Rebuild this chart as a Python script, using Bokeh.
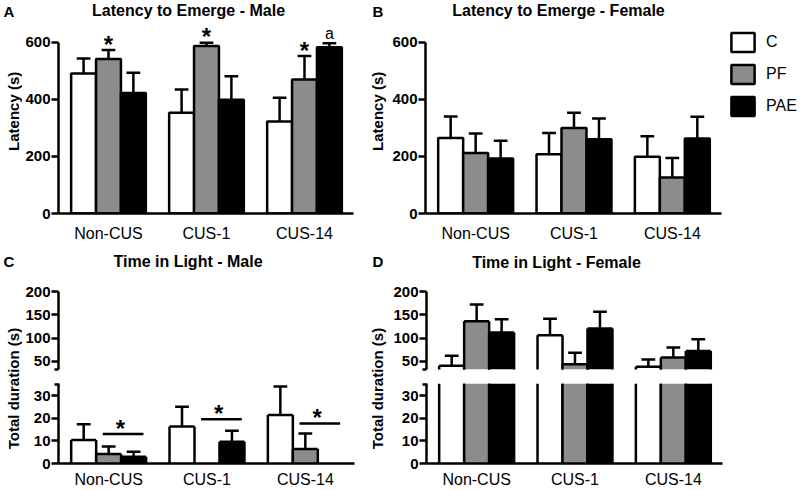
import math
from bokeh.plotting import figure
from bokeh.models import ColumnDataSource, Range1d, FixedTicker, Label, Legend, LegendItem
from bokeh.layouts import row, column
from bokeh.embed import file_html
from bokeh.resources import INLINE
from bokeh.core.properties import value

# ---------------- data ----------------
groups = ["Non-CUS", "CUS-1", "CUS-14"]
treatments = ["C", "PF", "PAE"]
fills = ["white", "#8c8c8c", "black"]

# A: Latency to emerge - male (mean, SEM)
latM_C = [491, 353, 323]
latM_PF = [542, 587, 470]
latM_PAE = [423, 399, 583]
latM_C_err = [53, 82, 83]
latM_PF_err = [31, 12, 82]
latM_PAE_err = [71, 82, 14]
latM_stars = [("Non-CUS", "PF"), ("CUS-1", "PF"), ("CUS-14", "PF")]
latM_letters = [("CUS-14", "PAE", "a")]

# B: Latency to emerge - female
latF_C = [265, 208, 199]
latF_PF = [212, 300, 126]
latF_PAE = [193, 260, 263]
latF_C_err = [75, 74, 72]
latF_PF_err = [69, 53, 69]
latF_PAE_err = [62, 73, 76]

# C: Time in light - male
tlM_C = [10.4, 16.4, 21.5]
tlM_PF = [4.2, 0.0, 6.4]
tlM_PAE = [3.0, 9.6, 0.0]
tlM_C_err = [7.0, 8.7, 12.6]
tlM_PF_err = [3.3, 0.0, 6.9]
tlM_PAE_err = [2.2, 4.9, 0.0]
tlM_sig = [13.0, 19.6, 17.7]   # height of PF-vs-PAE significance bars

# D: Time in light - female
tlF_C = [40.0, 106.0, 38.0]
tlF_PF = [136.6, 43.5, 58.0]
tlF_PAE = [112.0, 120.8, 72.3]
tlF_C_err = [21.5, 36.0, 15.7]
tlF_PF_err = [36.0, 24.5, 21.7]
tlF_PAE_err = [29.0, 36.0, 25.3]

lat_ticks = [0, 200, 400, 600]
upper_ticks = [50, 100, 150, 200]
lower_ticks = [0, 10, 20, 30]

# ---------------- layout constants ----------------
FONT = "Liberation Sans"
X0, X1 = -0.51, 2.50
FW = 296
XPP = (X1 - X0) / FW          # data units per pixel along x
BW = 0.254
OFFS = [-0.254, 0.0, 0.254]
CAP = 0.07
LW = 2.5

TOP_H = 244
LAT_FH = 213
LAT_R = (0, 747)      # frame reaches page top; axis drawn only 0..600
UP_H, UP_FH = 139, 125
UP_R = (32, 302.6)    # upper segment; axis drawn only 32..200
LO_H, LO_FH = 107, 80
LO_R = (0, 35.4)
BOT_H = UP_H + LO_H
BREAK = LO_R[1]       # values above this belong to the upper segment


def dx(px, fl):
    return X0 + (px - fl) * XPP


def dy(py, ft, fh, y0, y1):
    return y1 - (py - ft) / fh * (y1 - y0)


def make_fig(width, height, yr, ml, mr, mt, mb, x_axis=True, x_end=X1):
    p = figure(width=width, height=height, x_range=Range1d(X0, x_end), y_range=Range1d(*yr),
               output_backend="svg", toolbar_location=None, title=None,
               x_axis_location="below" if x_axis else None,
               min_border_left=ml, min_border_right=mr, min_border_top=mt, min_border_bottom=mb)
    p.outline_line_color = None
    p.xgrid.grid_line_color = None
    p.ygrid.grid_line_color = None
    p.background_fill_color = "white"
    p.border_fill_color = "white"
    ya = p.yaxis[0]
    ya.axis_line_width = LW
    ya.axis_line_color = "black"
    ya.major_tick_line_width = LW
    ya.major_tick_line_color = "black"
    ya.major_tick_out = 7
    ya.major_tick_in = 0
    ya.minor_tick_out = 4
    ya.minor_tick_in = 0
    ya.minor_tick_line_width = LW
    ya.minor_tick_line_color = "black"
    ya.major_label_text_font = FONT
    ya.major_label_text_font_size = "15px"
    ya.major_label_text_font_style = "bold"
    ya.major_label_text_color = "black"
    ya.major_label_standoff = 1
    if x_axis:
        xa = p.xaxis[0]
        xa.ticker = FixedTicker(ticks=[0, 1, 2], minor_ticks=[])
        xa.major_label_overrides = {i: g for i, g in enumerate(groups)}
        xa.bounds = (X0, X1)
        xa.axis_line_width = LW
        xa.axis_line_color = "black"
        xa.major_tick_line_color = None
        xa.minor_tick_line_color = None
        xa.major_tick_out = 0
        xa.major_tick_in = 0
        xa.major_label_text_font = FONT
        xa.major_label_text_font_size = "16px"
        xa.major_label_text_color = "black"
    return p


def seg(p, x0, y0, x1, y1):
    if x0:
        p.segment(x0=x0, y0=y0, x1=x1, y1=y1, line_color="black", line_width=LW)


def draw_errors(p, means, errs, lo, hi):
    for k in range(3):
        xs = [g + OFFS[k] for g in range(len(groups))]
        st = [(x, m, m + e) for x, m, e in zip(xs, means[k], errs[k]) if e > 0 and m + e > lo and m < hi]
        seg(p, [s[0] for s in st], [max(s[1], lo) for s in st], [s[0] for s in st], [min(s[2], hi) for s in st])
        cp = [(x, m + e) for x, m, e in zip(xs, means[k], errs[k]) if e > 0 and lo < m + e <= hi]
        seg(p, [c[0] - CAP for c in cp], [c[1] for c in cp], [c[0] + CAP for c in cp], [c[1] for c in cp])


def draw_bars(p, means, errs):
    rends = []
    for k in range(3):
        xs = [g + OFFS[k] for g in range(len(groups))]
        src = ColumnDataSource(dict(x=xs, top=means[k]))
        r = p.vbar(x="x", top="top", bottom=0, width=BW, source=src,
                   fill_color=fills[k], line_color="black", line_width=LW)
        rends.append(r)
    draw_errors(p, means, errs, -1e9, 1e9)
    return rends


def draw_bars_segment(p, means, errs, lo, hi, base):
    """Bars for one segment of a broken axis: open at the cut edges."""
    for k in range(3):
        xs = [g + OFFS[k] for g in range(len(groups))]
        vis = [(x, m) for x, m in zip(xs, means[k]) if m > lo]
        if not vis:
            continue
        vx = [v[0] for v in vis]
        vt = [min(v[1], hi) for v in vis]
        vb = [base for v in vis]
        p.vbar(x=vx, top=vt, bottom=vb, width=BW, fill_color=fills[k], line_color=None)
        seg(p, [x - BW / 2 for x in vx], vb, [x - BW / 2 for x in vx], vt)
        seg(p, [x + BW / 2 for x in vx], vb, [x + BW / 2 for x in vx], vt)
        tp = [v for v in vis if v[1] <= hi]
        seg(p, [v[0] - BW / 2 for v in tp], [v[1] for v in tp], [v[0] + BW / 2 for v in tp], [v[1] for v in tp])
    draw_errors(p, means, errs, lo, hi)


def add_label(p, x, y, text, size, bold=True, align="center", angle=0.0):
    p.add_layout(Label(x=x, y=y, text=text, text_font=FONT, text_font_size=size,
                       text_font_style="bold" if bold else "normal", text_color="black",
                       text_align=align, text_baseline="middle", angle=angle))


def strip(width, height):
    s = figure(width=width, height=height, x_range=Range1d(0, width), y_range=Range1d(0, height),
               output_backend="svg", toolbar_location=None, title=None,
               x_axis_location=None, y_axis_location=None, min_border=0)
    s.outline_line_color = None
    s.background_fill_color = "white"
    s.border_fill_color = "white"
    s.xgrid.grid_line_color = None
    s.ygrid.grid_line_color = None
    return s


def stars(p, xs, ys, size="24px", dy_px=-6):
    p.text(x=xs, y=ys, text=["*"] * len(xs), text_font=value(FONT), text_font_size=size,
           text_font_style="bold", text_align="center", text_baseline="middle",
           y_offset=dy_px, text_color="black")


# ---------------- panel A ----------------
pA = make_fig(346, TOP_H, LAT_R, 35, 15, 0, TOP_H - LAT_FH)
pA.yaxis[0].ticker = FixedTicker(ticks=lat_ticks, minor_ticks=[])
pA.yaxis[0].bounds = (0, 600)
pA.xaxis[0].major_label_standoff = 11
mA = [latM_C, latM_PF, latM_PAE]
eA = [latM_C_err, latM_PF_err, latM_PAE_err]
draw_bars(pA, mA, eA)
sx, sy = [], []
for g, t in latM_stars:
    gi, ti = groups.index(g), treatments.index(t)
    sx.append(gi + OFFS[ti])
    sy.append(mA[ti][gi] + eA[ti][gi])
stars(pA, sx, sy)
lx, ly, lt = [], [], []
for g, t, s in latM_letters:
    gi, ti = groups.index(g), treatments.index(t)
    lx.append(gi + OFFS[ti])
    ly.append(mA[ti][gi] + eA[ti][gi])
    lt.append(s)
pA.text(x=lx, y=ly, text=lt, text_font=value(FONT), text_font_size="16px",
        text_align="center", text_baseline="middle", y_offset=-10, text_color="black")
add_label(pA, dx(187.5, 57), dy(10, 0, LAT_FH, *LAT_R), "Latency to Emerge - Male", "16px")

# ---------------- panel B ----------------
pB = make_fig(412, TOP_H, LAT_R, 37, 0, 0, TOP_H - LAT_FH, x_end=X1 + 79 * XPP)
pB.yaxis[0].ticker = FixedTicker(ticks=lat_ticks, minor_ticks=[])
pB.yaxis[0].bounds = (0, 600)
pB.xaxis[0].major_label_standoff = 11
rB = draw_bars(pB, [latF_C, latF_PF, latF_PAE], [latF_C_err, latF_PF_err, latF_PAE_err])
legend = Legend(items=[LegendItem(label=t, renderers=[r]) for t, r in zip(treatments, rB)],
                location=(303, 95), orientation="vertical", glyph_width=29, glyph_height=24,
                label_height=24, spacing=8, label_standoff=9, padding=0, margin=0,
                border_line_color=None, background_fill_alpha=0,
                label_text_font=FONT, label_text_font_size="16px", label_text_color="black")
pB.add_layout(legend)
add_label(pB, dx(558, 425), dy(10, 0, LAT_FH, *LAT_R), "Latency to Emerge - Female", "16px")

sA = strip(22, TOP_H)
add_label(sA, 3, TOP_H - 12.5, "A", "15px", align="left")
add_label(sA, 12.5, TOP_H - 127, "Latency (s)", "15px", angle=math.pi / 2)
sB = strip(20, TOP_H)
add_label(sB, 4, TOP_H - 12.5, "B", "15px", align="left")
add_label(sB, 8.5, TOP_H - 127, "Latency (s)", "15px", angle=math.pi / 2)

# ---------------- panels C / D (broken axis) ----------------


def broken_pair(width, ml, mr, means, errs):
    pu = make_fig(width, UP_H, UP_R, ml, mr, 0, UP_H - UP_FH, x_axis=False)
    pu.yaxis[0].ticker = FixedTicker(ticks=upper_ticks, minor_ticks=[32.3])
    pu.yaxis[0].bounds = (32, 200)
    pl = make_fig(width, LO_H, LO_R, ml, mr, 0, LO_H - LO_FH, x_axis=True)
    pl.yaxis[0].ticker = FixedTicker(ticks=lower_ticks, minor_ticks=[35.1])
    pl.xaxis[0].major_label_standoff = 7
    draw_bars_segment(pu, means, errs, BREAK, UP_R[1], UP_R[0] - 5)
    draw_bars_segment(pl, means, errs, LO_R[0], LO_R[1], 0)
    return pu, pl


pCu, pCl = broken_pair(346, 36, 14, [tlM_C, tlM_PF, tlM_PAE], [tlM_C_err, tlM_PF_err, tlM_PAE_err])
sig_x0 = [g + OFFS[1] - 0.06 for g in range(len(groups))]
sig_x1 = [g + OFFS[2] + 0.10 for g in range(len(groups))]
seg(pCl, sig_x0, tlM_sig, sig_x1, tlM_sig)
stars(pCl, [g + 0.12 for g in range(len(groups))], tlM_sig)
add_label(pCu, dx(187.5, 58), dy(261, 244, UP_FH, *UP_R), "Time in Light - Male", "16px")

pDu, pDl = broken_pair(412, 38, 78, [tlF_C, tlF_PF, tlF_PAE], [tlF_C_err, tlF_PF_err, tlF_PAE_err])
add_label(pDu, dx(556, 426), dy(262, 244, UP_FH, *UP_R), "Time in Light - Female", "16px")

sC = strip(22, BOT_H)
add_label(sC, 3, BOT_H - (260.5 - 244), "C", "15px", align="left")
add_label(sC, 12.5, BOT_H - (388 - 244), "Total duration (s)", "15px", angle=math.pi / 2)
sD = strip(20, BOT_H)
add_label(sD, 4, BOT_H - (260.5 - 244), "D", "15px", align="left")
add_label(sD, 8.5, BOT_H - (388 - 244), "Total duration (s)", "15px", angle=math.pi / 2)

layout = column(row(sA, pA, sB, pB), row(sC, column(pCu, pCl), sD, column(pDu, pDl)))
open("out.html", "w").write(file_html(layout, INLINE))
